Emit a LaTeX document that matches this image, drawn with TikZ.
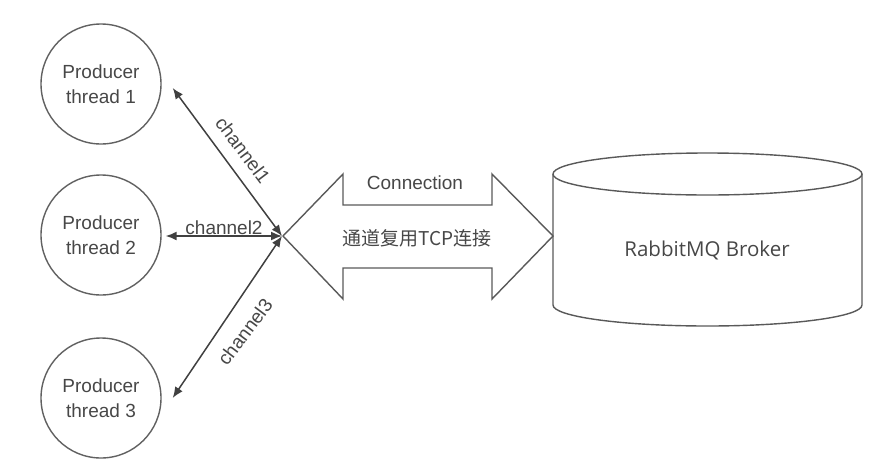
\documentclass[tikz,border=0pt]{standalone}
\usepackage{fontspec}
\setmainfont{Liberation Sans}
\newfontfamily\brokerfont{Open Sans}
\newfontfamily\cjkfont{Noto Sans CJK SC}
\usetikzlibrary{arrows.meta}
\tikzset{
  rqthread/.style={circle, draw=black!62, line width=1.4pt, minimum size=120pt, inner sep=0pt, align=center, text=black!72, font=\fontsize{19}{25}\selectfont},
  rqchan/.style={line width=1.5pt, draw=black!75, {Latex[length=11pt,width=9pt]}-{Latex[length=11pt,width=9pt]}},
  rqlabel/.style={text=black!72, font=\fontsize{19}{22}\selectfont, inner sep=0pt},
  rqshape/.style={line width=1.4pt, draw=black!65, line join=miter},
}
\begin{document}
\begin{tikzpicture}[x=1pt,y=-1pt]
\useasboundingbox (0,0) rectangle (882,474);
% producers
\node[rqthread] (p1) at (101,84) {Producer\\thread 1};
\node[rqthread] (p2) at (101,235) {Producer\\thread 2};
\node[rqthread] (p3) at (101,398) {Producer\\thread 3};
\coordinate (hub) at (282,236);
% connection
\draw[rqshape] (283,236) -- (343,174) -- (343,205) -- (492,205) -- (492,174) -- (553,236)
  -- (492,299) -- (492,268) -- (343,268) -- (343,299) -- cycle;
\node[rqlabel] (conn) at (415,183) {Connection};
\node[rqlabel, font=\cjkfont\fontsize{19}{22}\selectfont] (mux) at (417,238) {通道复用TCP连接};
% broker
\draw[rqshape] (707.5,174) ellipse [x radius=154.5, y radius=21];
\draw[rqshape] (553,174) -- (553,305) .. controls (553,316.6) and (622.2,326) .. (707.5,326)
  .. controls (792.8,326) and (862,316.6) .. (862,305) -- (862,174);
\node[rqlabel, font=\brokerfont\fontsize{20.5}{24}\selectfont] (broker) at (707,250) {RabbitMQ Broker};
% channels
\draw[rqchan] (hub) -- ([shift={(11,4)}]p1.east);
\draw[rqchan] (hub) -- ([shift={(4,1)}]p2.east);
\draw[rqchan] (hub) -- ([shift={(11,0)}]p3.east);
\node[rqlabel, rotate=-53] (c1) at (243,150) {channel1};
\node[rqlabel] (c2) at (224,228) {channel2};
\node[rqlabel, rotate=53] (c3) at (245,332) {channel3};
\end{tikzpicture}
\end{document}
